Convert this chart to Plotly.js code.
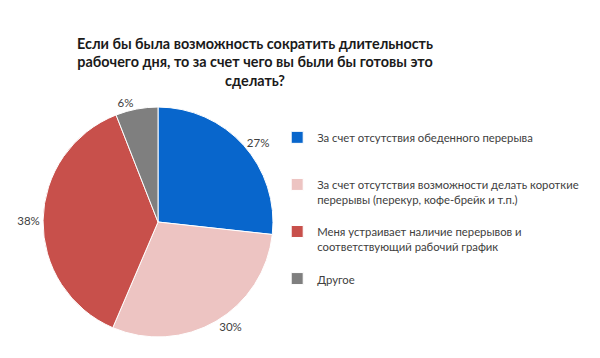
<!DOCTYPE html>
<html>
<head>
<meta charset="utf-8">
<script src="https://cdn.plot.ly/plotly-3.0.1.min.js"></script>
<style>html,body{margin:0;padding:0;background:#fff;}#chart{width:600px;height:358px;}</style>
</head>
<body>
<div id="chart"></div>
<script>
var categories = [
  "За счет отсутствия обеденного перерыва",
  "За счет отсутствия возможности делать короткие<br>перерывы (перекур, кофе-брейк и т.п.)",
  "Меня устраивает наличие перерывов и<br>соответствующий рабочий график",
  "Другое"
];
var values = [27, 30, 38, 6];
var colors = ["#0866CC", "#EDC4C2", "#C8504B", "#7F7F7F"];
var legendPad = ["<br>\u00a0<br>\u00a0", "<br>\u00a0", "<br>\u00a0", ""];

var legendLabels = categories.map(function(c, i){ return c + legendPad[i]; });

var trace = {
  type: "pie",
  labels: legendLabels,
  values: values,
  text: values.map(function(v){ return v + "%"; }),
  texttemplate: "%{text}",
  textinfo: "text",
  textposition: "outside",
  sort: false,
  direction: "clockwise",
  rotation: 0,
  marker: {colors: colors, line: {color: "#ffffff", width: 1}},
  textfont: {family: "Lato, sans-serif", size: 11.5, color: "#404040"},
  outsidetextfont: {family: "Lato, sans-serif", size: 11.5, color: "#404040"},
  hoverinfo: "label+percent",
  domain: {x: [0.0717, 0.455], y: [0.0587, 0.701]},
  automargin: false
};

var layout = {
  width: 600, height: 358,
  margin: {l: 0, r: 0, t: 0, b: 0},
  paper_bgcolor: "#ffffff",
  title: {
    text: "<b>Если бы была возможность сократить длительность<br>рабочего дня, то за счет чего вы были бы готовы это<br>сделать?</b>",
    x: 0.425, xanchor: "center", xref: "paper",
    y: 0.864, yanchor: "top", yref: "container",
    font: {family: "Lato, sans-serif", size: 14.4, color: "#1a1a1a"}
  },
  showlegend: true,
  legend: {
    x: 0.462, xanchor: "left", y: 0.655, yanchor: "top",
    valign: "top",
    font: {family: "Lato, sans-serif", size: 11.3, color: "#404040"},
    itemwidth: 30
  }
};

Plotly.newPlot("chart", [trace], layout, {displayModeBar: false, staticPlot: true});
</script>
</body>
</html>
